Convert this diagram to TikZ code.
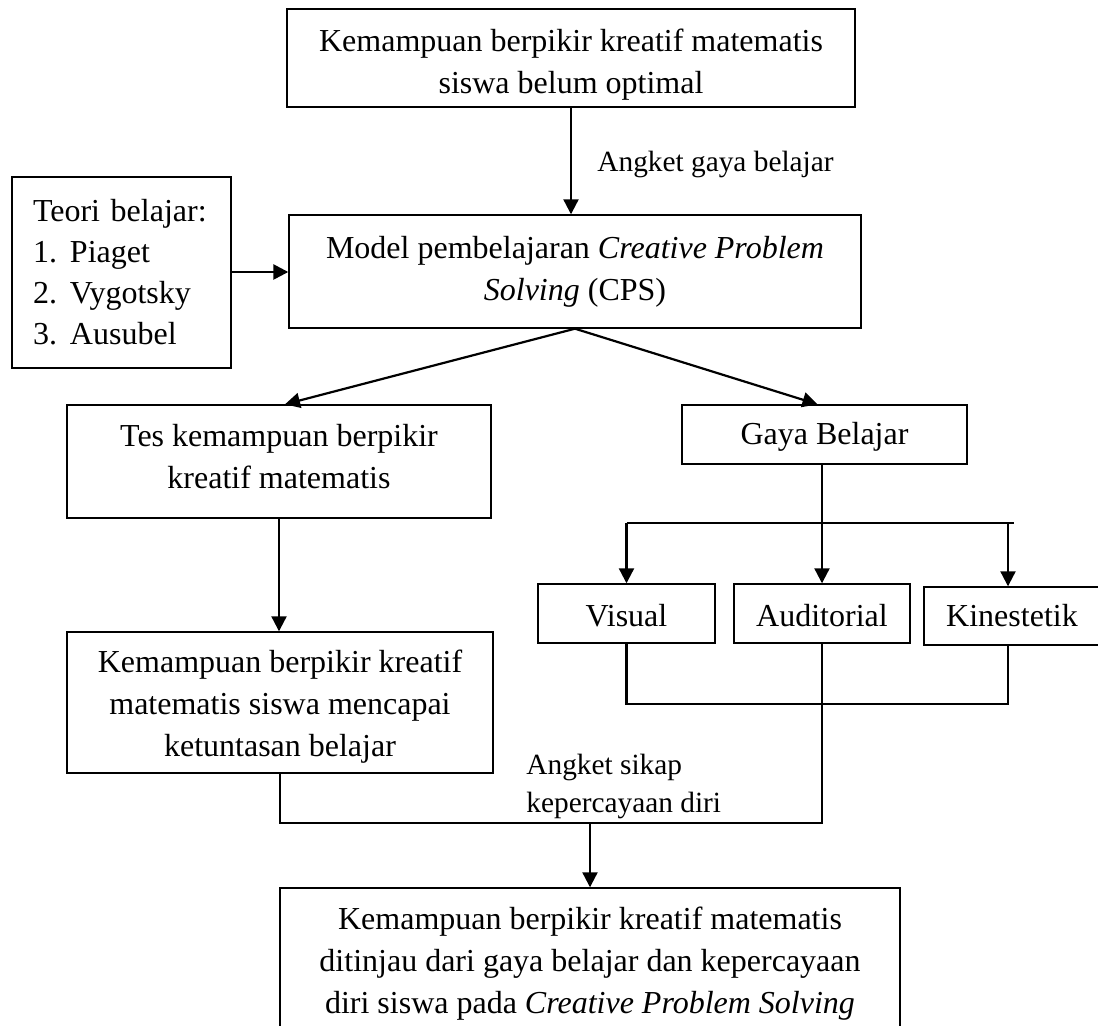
\documentclass[tikz,border=0pt]{standalone}
\usepackage{fontspec}
\setmainfont{Liberation Serif}
\usetikzlibrary{arrows.meta,calc}
\begin{document}
\begin{tikzpicture}[x=0.5pt,y=-0.5pt,
 box/.style={draw, line width=0.7pt, inner sep=0pt, align=center, font=\fontsize{16}{21}\selectfont},
 arr/.style={line width=1.1pt, -{Triangle[length=7.5pt,width=7.5pt]}},
 ln/.style={line width=1.1pt},
 lbl/.style={font=\fontsize{14.67}{19}\selectfont, inner sep=0pt, align=left}]
\useasboundingbox (0,0) rectangle (1098,1026);
% boxes
\node[box, minimum width=284pt, minimum height=49pt] (top) at (571,58)
  {\rule{0pt}{18.4pt}Kemampuan berpikir kreatif matematis\\siswa belum optimal};
\node[box, minimum width=286pt, minimum height=56.5pt] (model) at (575,271.5)
  {Model pembelajaran \textit{Creative Problem}\\\textit{Solving} (CPS)\rule[-1pt]{0pt}{1pt}};
\node[box, line width=1.2pt, align=left, text width=88.5pt, inner xsep=10.5pt, minimum height=95.5pt] (teori) at (121.5,272.5)
  {Teori belajar:\\[-0.5pt]\makebox[18.5pt][l]{1.}Piaget\\[-0.5pt]\makebox[18.5pt][l]{2.}Vygotsky\\[-0.5pt]\makebox[18.5pt][l]{3.}Ausubel};
\node[box, minimum width=212pt, minimum height=56.5pt] (tes) at (279,461.5)
  {Tes kemampuan berpikir\\kreatif matematis\rule[-5pt]{0pt}{5pt}};
\node[box, minimum width=142.5pt, minimum height=29.5pt] (gaya) at (824.5,434.5)
  {\rule{0pt}{13.9pt}Gaya Belajar};
\node[box, minimum width=88.5pt, minimum height=29.5pt] (vis) at (626.5,613.5)
  {\rule{0pt}{12.9pt}Visual};
\node[box, minimum width=88pt, minimum height=29.5pt] (aud) at (822,613.5)
  {\rule{0pt}{12.9pt}Auditorial};
\node[box, minimum width=88pt, minimum height=29pt] (kin) at (1012,616)
  {Kinestetik};
\node[box, minimum width=213pt, minimum height=70.5pt] (mid) at (280,702.5)
  {\rule{0pt}{15.4pt}Kemampuan berpikir kreatif\\matematis siswa mencapai\\ketuntasan belajar};
\node[box, minimum width=310pt, minimum height=76pt] (bot) at (590,964)
  {Kemampuan berpikir kreatif matematis\\ditinjau dari gaya belajar dan kepercayaan\\diri siswa pada \textit{Creative Problem Solving}};
% labels
\node[lbl, anchor=west] (l1) at (597,164) {Angket gaya belajar};
\node[lbl, anchor=west] (l2) at (526,786) {Angket sikap\\kepercayaan diri};
% connectors
\draw[arr] (top.south) -- (top.south |- model.north);
\draw[arr, line width=1.3pt] (teori.east |- 0,272) -- (model.west |- 0,272);
\draw[arr] (model.south) -- ([xshift=3pt]tes.north);
\draw[arr] (model.south) -- ([xshift=-3.5pt]gaya.north);
\draw[arr] (tes.south) -- (tes.south |- mid.north);
\coordinate (sp) at (824,523);
\draw[arr] (gaya.south -| aud.north) -- (aud.north);
\draw[ln, line width=1.2pt] (sp -| vis.north) -- ([xshift=1pt]sp -| kin.north);
\draw[arr] (sp -| vis.north) -- (vis.north);
\draw[arr] ([xshift=-2pt]sp -| kin.north) -- ([xshift=-2pt]kin.north);
\coordinate (jn) at (824,704);
\draw[ln, line width=1.2pt] (vis.south) -- (jn -| vis.south) -- ([xshift=-2pt]jn -| kin.south) -- ([xshift=-2pt]kin.south);
\coordinate (jm) at (590,823);
\draw[ln, line width=1.2pt] (aud.south) -- (jm -| aud.south) -- (jm -| mid.south) -- (mid.south);
\draw[arr] (jm) -- (bot.north);
\end{tikzpicture}
\end{document}
